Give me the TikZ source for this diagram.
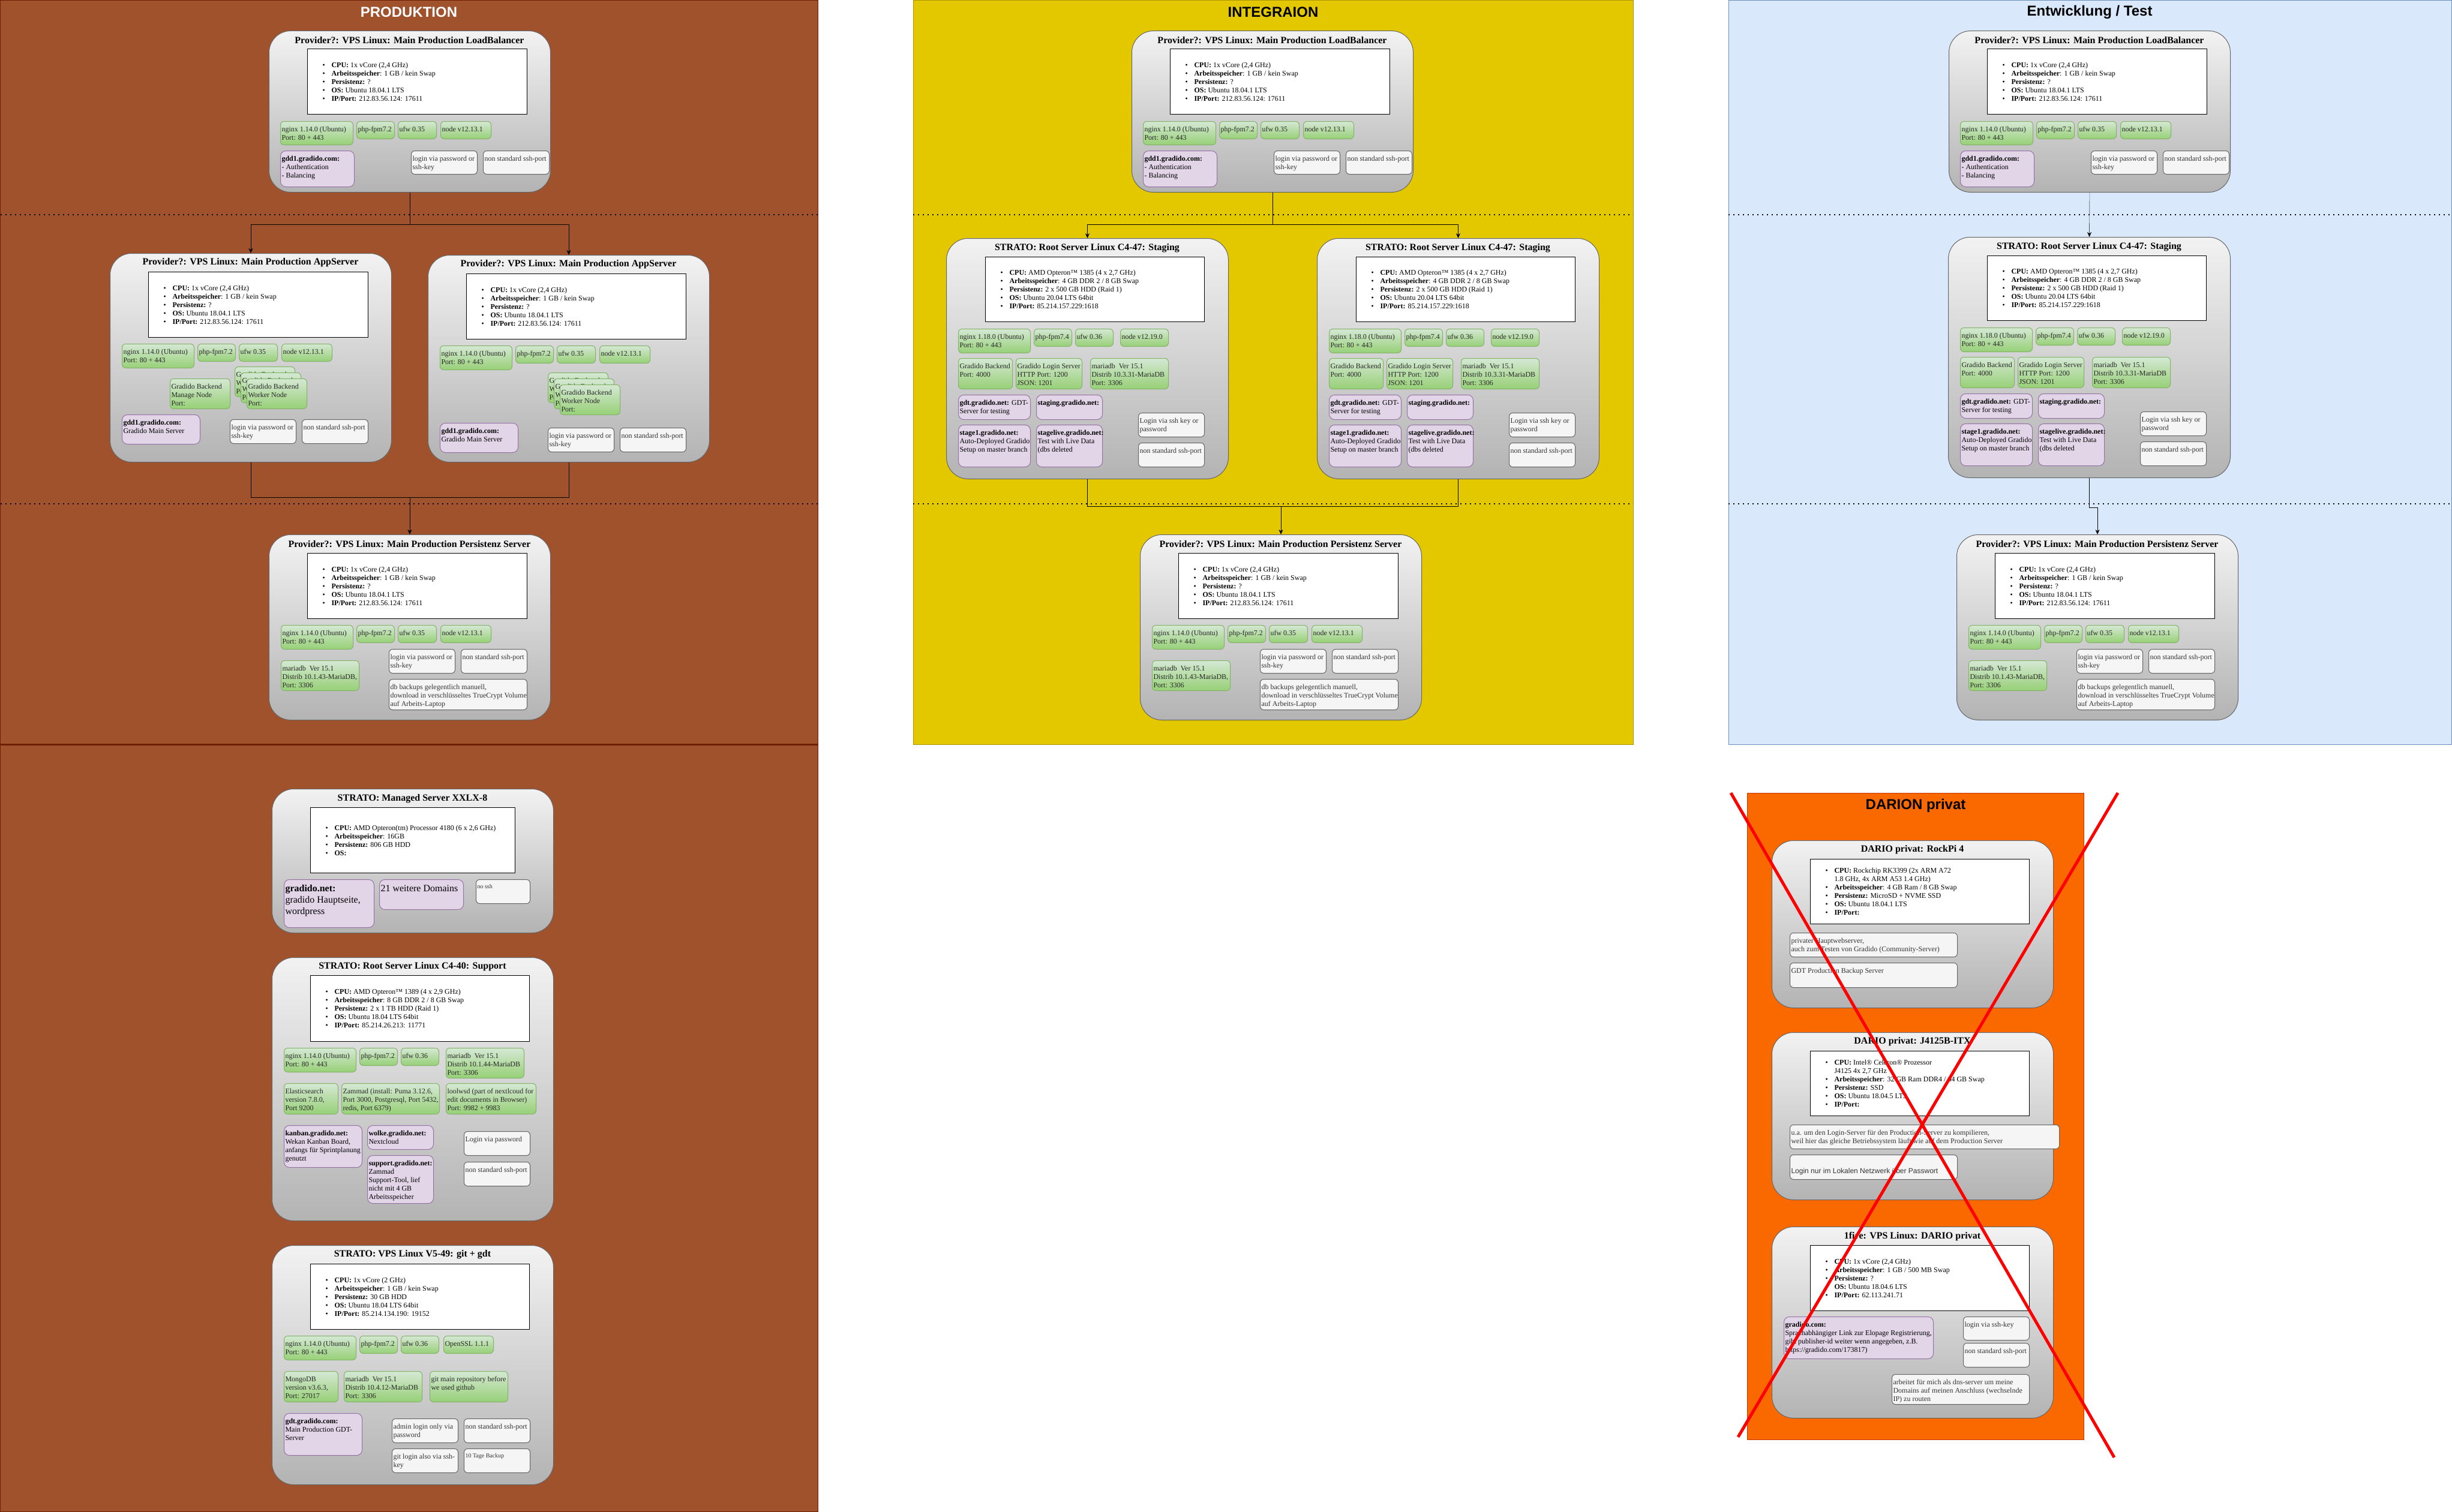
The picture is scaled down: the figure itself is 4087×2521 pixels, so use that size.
\documentclass[tikz,border=0pt]{standalone}
\usepackage{fontspec}
\setmainfont{Liberation Serif}
\newfontfamily\headfont{Liberation Sans}
\usetikzlibrary{calc,positioning,arrows.meta}

\definecolor{prodbg}{HTML}{A0522D}
\definecolor{prodline}{HTML}{6D1F00}
\definecolor{intbg}{HTML}{E3C800}
\definecolor{intline}{HTML}{B09500}
\definecolor{devbg}{HTML}{DAE8FC}
\definecolor{devline}{HTML}{6C8EBF}
\definecolor{privbg}{HTML}{FA6800}
\definecolor{privline}{HTML}{C73500}
\definecolor{srvtop}{HTML}{F2F2F2}
\definecolor{srvbot}{HTML}{B3B3B3}
\definecolor{srvline}{HTML}{666666}
\definecolor{grntop}{HTML}{D5E8D4}
\definecolor{grnbot}{HTML}{97D077}
\definecolor{grnline}{HTML}{82B366}
\definecolor{purfill}{HTML}{E1D5E7}
\definecolor{purline}{HTML}{9673A6}
\definecolor{notefill}{HTML}{F5F5F5}
\definecolor{notetext}{HTML}{333333}

\newcommand{\bul}{\makebox[15pt][l]{\textbullet}}

\begin{document}
\begin{tikzpicture}[x=1pt, y=-1pt,
    panel/.style = {draw=#1line, fill=#1bg, line width=1pt},
    head/.style = {font=\headfont\bfseries\fontsize{24}{28}\selectfont},
    server/.style 2 args = {anchor=north west, inner sep=0pt, draw=srvline, line width=1pt,
        top color=srvtop, bottom color=srvbot, rounded corners=36pt,
        minimum width=#1, minimum height=#2},
    srvtitle/.style = {font=\bfseries\fontsize{16}{19}\selectfont},
    spec/.style 2 args = {anchor=north west, inner sep=0pt, draw=black, fill=white, line width=1pt,
        minimum width=#1, minimum height=#2, font=\fontsize{12}{14}\selectfont,
        execute at begin node={\begin{minipage}{#1pt}\raggedright\leftskip=25pt},
        execute at end node={\end{minipage}}},
    cell/.style 2 args = {anchor=north west, inner sep=0pt, line width=1pt, rounded corners=6pt,
        minimum width=#1, minimum height=#2, font=\fontsize{12}{14}\selectfont,
        execute at begin node={\hbox to \dimexpr#1pt-4pt\relax\bgroup\begin{minipage}[t][\dimexpr#2pt-4pt\relax][t]{\dimexpr#1pt-4pt\relax}\hsize=1000pt\raggedright\vspace*{5pt}\strut},
        execute at end node={\end{minipage}\hss\egroup}},
    soft/.style 2 args = {cell={#1}{#2}, draw=grnline, top color=grntop, bottom color=grnbot, text=black!85},
    dom/.style 2 args = {cell={#1}{#2}, draw=purline, fill=purfill, rounded corners=9pt},
    note/.style 2 args = {cell={#1}{#2}, draw=srvline, fill=notefill, text=notetext},
    tier/.style = {dash pattern=on 2pt off 6pt, line width=1.2pt},
    link/.style = {-{Stealth[length=8pt, width=7pt]}},
    xline/.style = {draw=red, line width=5pt},
  ]
\useasboundingbox (0,0) rectangle (4087,2521);
\fill[white] (0,0) rectangle (4087,2521);

% areas
\draw[panel=prod] (0.5,0.5) rectangle (1363,1241);
\draw[panel=prod] (0.5,1241) rectangle (1363,2520.5);
\draw[panel=int] (1522,0.5) rectangle (2722,1241);
\draw[panel=dev] (2881,0.5) rectangle (4086,1241);
\draw[panel=priv] (2912,1322) rectangle (3473,2400);
\draw[prodline, line width=3pt] (0.5,1241) -- (1363,1241);
\foreach \a/\b in {0.5/1363,1522/2722,2881/4086}{
  \draw[tier] (\a,358) -- (\b,358);
  \draw[tier] (\a,840) -- (\b,840);
}
\node[head, text=white] (hProd) at (681.5,20) {PRODUKTION};
\node[head] (hInt) at (2122,20) {INTEGRAION};
\node[head] (hDev) at (3483,20) {Entwicklung / Test};
\node[head] (hPriv) at (3193,1343) {DARION privat};

% load balancer
\foreach \c/\cx in {P/448,I/1886,E/3248}{
\begin{scope}[shift={(\cx,51)}]
  \node[server={469}{269}] (lb\c) at (0,0) {};
  \node[srvtitle] (lb\c-t) at (234.5,16) {Provider?: VPS Linux: Main Production LoadBalancer};
  \node[spec={366}{109}] (lb\c-s) at (64,30) {\bul\textbf{CPU:} 1x vCore (2,4 GHz)\\
    \bul\textbf{Arbeitsspeicher}: 1 GB / kein Swap\\
    \bul\textbf{Persistenz:} ?\\
    \bul\textbf{OS:} Ubuntu 18.04.1 LTS\\
    \bul\textbf{IP/Port:} 212.83.56.124: 17611};
  \node[soft={121}{39}] (lb\c-ngx) at (19,151) {nginx 1.14.0 (Ubuntu)\\Port: 80 + 443};
  \node[soft={63}{29}] (lb\c-php) at (146,151) {php-fpm7.2};
  \node[soft={64}{29}] (lb\c-ufw) at (215,151) {ufw 0.35};
  \node[soft={84}{29}] (lb\c-node) at (286,151) {node v12.13.1};
  \node[dom={123}{60}] (lb\c-dom) at (19,200) {\textbf{gdd1.gradido.com:}\\- Authentication\\- Balancing};
  \node[note={110}{39}] (lb\c-login) at (237,200) {login via password or\\ssh-key};
  \node[note={110}{39}] (lb\c-port) at (357,200) {non standard ssh-port};
\end{scope}}

% app servers
\begin{scope}[shift={(183,422)}]
  \node[server={469}{348}] (appA) at (0,0) {};
  \node[srvtitle] (appA-t) at (234.5,16) {Provider?: VPS Linux: Main Production AppServer};
  \node[spec={366}{109}] (appA-s) at (64,31) {\bul\textbf{CPU:} 1x vCore (2,4 GHz)\\
    \bul\textbf{Arbeitsspeicher}: 1 GB / kein Swap\\
    \bul\textbf{Persistenz:} ?\\
    \bul\textbf{OS:} Ubuntu 18.04.1 LTS\\
    \bul\textbf{IP/Port:} 212.83.56.124: 17611};
  \node[soft={120}{40}] (appA-ngx) at (20,151) {nginx 1.14.0 (Ubuntu)\\Port: 80 + 443};
  \node[soft={63}{29}] (appA-php) at (146,151) {php-fpm7.2};
  \node[soft={64}{29}] (appA-ufw) at (215,151) {ufw 0.35};
  \node[soft={84}{29}] (appA-node) at (286,151) {node v12.13.1};
  \node[soft={100}{50}] (appA-mgr) at (100,209) {Gradido Backend\\Manage Node\\Port:};
  \foreach \d in {0,10,20}
    \node[soft={100}{50}] (appA-w\d) at (208+\d,189+\d) {Gradido Backend\\Worker Node\\Port:};
  \node[dom={130}{49}] (appA-dom) at (20,269) {\textbf{gdd1.gradido.com:}\\Gradido Main Server};
  \node[note={110}{40}] (appA-login) at (200,277) {login via password or\\ssh-key};
  \node[note={110}{40}] (appA-port) at (320,277) {non standard ssh-port};
\end{scope}
\begin{scope}[shift={(713,425)}]
  \node[server={469}{345}] (appB) at (0,0) {};
  \node[srvtitle] (appB-t) at (234.5,16) {Provider?: VPS Linux: Main Production AppServer};
  \node[spec={366}{109}] (appB-s) at (64,31) {\bul\textbf{CPU:} 1x vCore (2,4 GHz)\\
    \bul\textbf{Arbeitsspeicher}: 1 GB / kein Swap\\
    \bul\textbf{Persistenz:} ?\\
    \bul\textbf{OS:} Ubuntu 18.04.1 LTS\\
    \bul\textbf{IP/Port:} 212.83.56.124: 17611};
  \node[soft={120}{40}] (appB-ngx) at (20,151) {nginx 1.14.0 (Ubuntu)\\Port: 80 + 443};
  \node[soft={63}{29}] (appB-php) at (146,151) {php-fpm7.2};
  \node[soft={64}{29}] (appB-ufw) at (215,151) {ufw 0.35};
  \node[soft={84}{29}] (appB-node) at (286,151) {node v12.13.1};
  \foreach \d in {0,10,20}
    \node[soft={100}{50}] (appB-w\d) at (200+\d,196+\d) {Gradido Backend\\Worker Node\\Port:};
  \node[dom={130}{49}] (appB-dom) at (20,280) {\textbf{gdd1.gradido.com:}\\Gradido Main Server};
  \node[note={110}{40}] (appB-login) at (200,288) {login via password or\\ssh-key};
  \node[note={110}{40}] (appB-port) at (320,288) {non standard ssh-port};
\end{scope}

% staging
\foreach \c/\cx/\cy in {I/1577/397,J/2195/397,E/3247/395}{
\begin{scope}[shift={(\cx,\cy)}]
  \node[server={470}{401}] (st\c) at (0,0) {};
  \node[srvtitle] (st\c-t) at (235,17) {STRATO: Root Server Linux C4-47: Staging};
  \node[spec={365}{108}] (st\c-s) at (65,31) {\bul\textbf{CPU:} AMD Opteron™ 1385 (4 x 2,7 GHz)\\
    \bul\textbf{Arbeitsspeicher}: 4 GB DDR 2 / 8 GB Swap\\
    \bul\textbf{Persistenz:} 2 x 500 GB HDD (Raid 1)\\
    \bul\textbf{OS:} Ubuntu 20.04 LTS 64bit\\
    \bul\textbf{IP/Port:} 85.214.157.229:1618};
  \node[soft={120}{40}] (st\c-ngx) at (20,151) {nginx 1.18.0 (Ubuntu)\\Port: 80 + 443};
  \node[soft={63}{29}] (st\c-php) at (146,151) {php-fpm7.4};
  \node[soft={63}{29}] (st\c-ufw) at (215,151) {ufw 0.36};
  \node[soft={80}{29}] (st\c-node) at (290,151) {node v12.19.0};
  \node[soft={90}{51}] (st\c-be) at (20,200) {Gradido Backend\\Port: 4000};
  \node[soft={110}{51}] (st\c-ls) at (116,200) {Gradido Login Server\\HTTP Port: 1200\\JSON: 1201};
  \node[soft={130}{51}] (st\c-db) at (240,200) {mariadb\ \ Ver 15.1\\Distrib 10.3.31-MariaDB\\Port: 3306};
  \node[dom={120}{41}] (st\c-gdt) at (20,261) {\textbf{gdt.gradido.net:} GDT-\\Server for testing};
  \node[dom={110}{41}] (st\c-stg) at (150,261) {\textbf{staging.gradido.net:}};
  \node[dom={120}{70}] (st\c-s1) at (20,311) {\textbf{stage1.gradido.net:}\\Auto-Deployed Gradido\\Setup on master branch};
  \node[dom={110}{70}] (st\c-live) at (150,311) {\textbf{stagelive.gradido.net:}\\Test with Live Data\\(dbs deleted};
  \node[note={110}{40}] (st\c-login) at (320,291) {Login via ssh key or\\password};
  \node[note={110}{40}] (st\c-port) at (320,341) {non standard ssh-port};
\end{scope}}

% persistence
\foreach \c/\cx in {P/448,I/1900,E/3261}{
\begin{scope}[shift={(\cx,891)}]
  \node[server={469}{309}] (pers\c) at (0,0) {};
  \node[srvtitle] (pers\c-t) at (234.5,16) {Provider?: VPS Linux: Main Production Persistenz Server};
  \node[spec={366}{109}] (pers\c-s) at (64,31) {\bul\textbf{CPU:} 1x vCore (2,4 GHz)\\
    \bul\textbf{Arbeitsspeicher}: 1 GB / kein Swap\\
    \bul\textbf{Persistenz:} ?\\
    \bul\textbf{OS:} Ubuntu 18.04.1 LTS\\
    \bul\textbf{IP/Port:} 212.83.56.124: 17611};
  \node[soft={120}{40}] (pers\c-ngx) at (20,151) {nginx 1.14.0 (Ubuntu)\\Port: 80 + 443};
  \node[soft={63}{29}] (pers\c-php) at (146,151) {php-fpm7.2};
  \node[soft={64}{29}] (pers\c-ufw) at (215,151) {ufw 0.35};
  \node[soft={84}{29}] (pers\c-node) at (286,151) {node v12.13.1};
  \node[soft={130}{50}] (pers\c-db) at (20,210) {mariadb\ \ Ver 15.1\\Distrib 10.1.43-MariaDB,\\Port: 3306};
  \node[note={110}{40}] (pers\c-login) at (200,191) {login via password or\\ssh-key};
  \node[note={110}{40}] (pers\c-port) at (320,191) {non standard ssh-port};
  \node[note={230}{51}] (pers\c-bak) at (200,241) {db backups gelegentlich manuell,\\download in verschlüsseltes TrueCrypt Volume\\auf Arbeits-Laptop};
\end{scope}}

% strato managed server
\begin{scope}[shift={(453,1315)}]
  \node[server={469}{240}] (mgd) at (0,0) {};
  \node[srvtitle] (mgd-t) at (234.5,17) {STRATO: Managed Server XXLX-8};
  \node[spec={341}{109}] (mgd-s) at (64,31) {\bul\textbf{CPU:} AMD Opteron(tm) Processor 4180 (6 x 2,6 GHz)\\
    \bul\textbf{Arbeitsspeicher}: 16GB\\
    \bul\textbf{Persistenz:} 806 GB HDD\\
    \bul\textbf{OS:}};
  \node[dom={150}{80}, font=\fontsize{16}{19}\selectfont] (mgd-net) at (20,151) {\textbf{gradido.net:}\\gradido Hauptseite,\\wordpress};
  \node[dom={140}{50}, font=\fontsize{16}{19}\selectfont] (mgd-more) at (179,151) {21 weitere Domains};
  \node[note={90}{40}, font=\fontsize{10}{12}\selectfont] (mgd-ssh) at (340,151) {no ssh};
\end{scope}

% strato support server
\begin{scope}[shift={(453,1596)}]
  \node[server={469}{439}] (sup) at (0,0) {};
  \node[srvtitle] (sup-t) at (234.5,16) {STRATO: Root Server Linux C4-40: Support};
  \node[spec={365}{110}] (sup-s) at (64,30) {\bul\textbf{CPU:} AMD Opteron™ 1389 (4 x 2,9 GHz)\\
    \bul\textbf{Arbeitsspeicher}: 8 GB DDR 2 / 8 GB Swap\\
    \bul\textbf{Persistenz:} 2 x 1 TB HDD (Raid 1)\\
    \bul\textbf{OS:} Ubuntu 18.04 LTS 64bit\\
    \bul\textbf{IP/Port:} 85.214.26.213: 11771};
  \node[soft={120}{40}] (sup-ngx) at (20,151) {nginx 1.14.0 (Ubuntu)\\Port: 80 + 443};
  \node[soft={63}{29}] (sup-php) at (146,151) {php-fpm7.2};
  \node[soft={63}{29}] (sup-ufw) at (215,151) {ufw 0.36};
  \node[soft={130}{50}] (sup-db) at (290,151) {mariadb\ \ Ver 15.1\\Distrib 10.1.44-MariaDB\\Port: 3306};
  \node[soft={90}{51}] (sup-es) at (20,210) {Elasticsearch\\version 7.8.0,\\Port 9200};
  \node[soft={163}{51}] (sup-zam) at (116,210) {Zammad (install: Puma 3.12.6,\\Port 3000, Postgresql, Port 5432,\\redis, Port 6379)};
  \node[soft={150}{51}] (sup-lool) at (290,210) {loolwsd (part of nextlcoud for\\edit documents in Browser)\\Port: 9982 + 9983};
  \node[dom={130}{70}] (sup-kan) at (20,280) {\textbf{kanban.gradido.net:}\\Wekan Kanban Board,\\anfangs für Sprintplanung\\genutzt};
  \node[dom={110}{40}] (sup-wolke) at (159,280) {\textbf{wolke.gradido.net:}\\Nextcloud};
  \node[dom={110}{80}] (sup-sup) at (159,330) {\textbf{support.gradido.net:}\\Zammad\\Support-Tool, lief\\nicht mit 4 GB\\Arbeitsspeicher};
  \node[note={110}{40}] (sup-login) at (320,290) {Login via password};
  \node[note={110}{40}] (sup-port) at (320,341) {non standard ssh-port};
\end{scope}

% strato git + gdt
\begin{scope}[shift={(453,2076)}]
  \node[server={469}{399}] (git) at (0,0) {};
  \node[srvtitle] (git-t) at (234.5,16) {STRATO: VPS Linux V5-49: git + gdt};
  \node[spec={365}{109}] (git-s) at (64,31) {\bul\textbf{CPU:} 1x vCore (2 GHz)\\
    \bul\textbf{Arbeitsspeicher}: 1 GB / kein Swap\\
    \bul\textbf{Persistenz:} 30 GB HDD\\
    \bul\textbf{OS:} Ubuntu 18.04 LTS 64bit\\
    \bul\textbf{IP/Port:} 85.214.134.190: 19152};
  \node[soft={120}{40}] (git-ngx) at (20,151) {nginx 1.14.0 (Ubuntu)\\Port: 80 + 443};
  \node[soft={63}{29}] (git-php) at (146,151) {php-fpm7.2};
  \node[soft={63}{29}] (git-ufw) at (215,151) {ufw 0.36};
  \node[soft={83}{29}] (git-ssl) at (286,151) {OpenSSL 1.1.1};
  \node[soft={90}{51}] (git-mongo) at (20,210) {MongoDB\\version v3.6.3,\\Port: 27017};
  \node[soft={130}{51}] (git-db) at (120,210) {mariadb\ \ Ver 15.1\\Distrib 10.4.12-MariaDB\\Port: 3306};
  \node[soft={130}{51}] (git-repo) at (263,210) {git main repository before\\we used github};
  \node[dom={130}{70}] (git-dom) at (20,280) {\textbf{gdt.gradido.com:}\\Main Production GDT-\\Server};
  \node[note={110}{40}] (git-admin) at (200,289) {admin login only via\\password};
  \node[note={110}{40}] (git-port) at (320,289) {non standard ssh-port};
  \node[note={110}{40}] (git-key) at (200,339) {git login also via ssh-\\key};
  \node[note={110}{40}, font=\fontsize{10}{12}\selectfont] (git-bak) at (320,339) {10 Tage Backup};
\end{scope}

% dario privat
\begin{scope}[shift={(2953,1401)}]
  \node[server={469}{279}] (rock) at (0,0) {};
  \node[srvtitle] (rock-t) at (234.5,16) {DARIO privat: RockPi 4};
  \node[spec={365}{108}] (rock-s) at (64,31) {\bul\textbf{CPU:} Rockchip RK3399 (2x ARM A72\\
    \hspace*{15pt}1.8 GHz, 4x ARM A53 1.4 GHz)\\
    \bul\textbf{Arbeitsspeicher}: 4 GB Ram / 8 GB Swap\\
    \bul\textbf{Persistenz:} MicroSD + NVME SSD\\
    \bul\textbf{OS:} Ubuntu 18.04.1 LTS\\
    \bul\textbf{IP/Port:}};
  \node[note={279}{40}] (rock-web) at (30,154) {privater Hauptwebserver,\\auch zum Testen von Gradido (Community-Server)};
  \node[note={279}{41}] (rock-bak) at (30,204) {GDT Production Backup Server};
\end{scope}
\begin{scope}[shift={(2953,1721)}]
  \node[server={469}{279}] (itx) at (0,0) {};
  \node[srvtitle] (itx-t) at (234.5,16) {DARIO privat: J4125B-ITX};
  \node[spec={365}{108}] (itx-s) at (64,31) {\bul\textbf{CPU:} Intel® Celeron® Prozessor\\
    \hspace*{15pt}J4125 4x 2,7 GHz\\
    \bul\textbf{Arbeitsspeicher}: 32 GB Ram DDR4 / 64 GB Swap\\
    \bul\textbf{Persistenz:} SSD\\
    \bul\textbf{OS:} Ubuntu 18.04.5 LTS\\
    \bul\textbf{IP/Port:}};
  \node[note={449}{40}] (itx-use) at (30,154) {u.a. um den Login-Server für den Production-Server zu kompilieren,\\weil hier das gleiche Betriebssystem läuft wie auf dem Production Server};
  \node[note={279}{41}, font=\headfont\fontsize{12}{14}\selectfont] (itx-login) at (30,204) {\mbox{}\\Login nur im Lokalen Netzwerk über Passwort};
\end{scope}
\begin{scope}[shift={(2953,2045)}]
  \node[server={469}{319}] (fire) at (0,0) {};
  \node[srvtitle] (fire-t) at (234.5,17) {1fire: VPS Linux: DARIO privat};
  \node[spec={365}{109}] (fire-s) at (64,31) {\bul\textbf{CPU:} 1x vCore (2,4 GHz)\\
    \bul\textbf{Arbeitsspeicher}: 1 GB / 500 MB Swap\\
    \bul\textbf{Persistenz:} ?\\
    \bul\textbf{OS:} Ubuntu 18.04.6 LTS\\
    \bul\textbf{IP/Port:} 62.113.241.71};
  \node[dom={249}{70}] (fire-dom) at (20,150) {\textbf{gradido.com:}\\Sprachabhängiger Link zur Elopage Registrierung,\\gibt publisher-id weiter wenn angegeben, z.B.\\https://gradido.com/173817)};
  \node[note={110}{39}] (fire-login) at (319,150) {login via ssh-key};
  \node[note={110}{40}] (fire-port) at (319,194) {non standard ssh-port};
  \node[note={229}{50}] (fire-dns) at (200,246) {arbeitet für mich als dns-server um meine\\Domains auf meinen Anschluss (wechselnde\\IP) zu routen};
\end{scope}

% connections
\coordinate (forkP) at ($(lbP.south)+(0,53)$);
\draw (lbP.south) -- (forkP);
\draw[link] (forkP) -| (appA.north);
\draw[link] (forkP) -| (appB.north);
\coordinate (joinP) at ($(persP.north)+(0,-62)$);
\draw (appA.south) |- (joinP);
\draw (appB.south) |- (joinP);
\draw[link] (joinP) -- (persP.north);

\coordinate (forkI) at ($(lbI.south)+(0,53)$);
\draw (lbI.south) -- (forkI);
\draw[link] (forkI) -| (stI.north);
\draw[link] (forkI) -| (stJ.north);
\coordinate (joinI) at ($(persI.north)+(0,-47)$);
\draw (stI.south) |- (joinI);
\draw (stJ.south) |- (joinI);
\draw[link] (joinI) -- (persI.north);

\draw[link] (lbE.south) -- (stE.north);
\coordinate (joinE) at ($(persE.north)+(0,-45)$);
\draw (stE.south) |- (joinE);
\draw[link] (joinE) -- (persE.north);

% crossed out
\draw[xline] (2885,1322) -- (3524,2430);
\draw[xline] (3530,1322) -- (2897,2396);
\end{tikzpicture}
\end{document}
